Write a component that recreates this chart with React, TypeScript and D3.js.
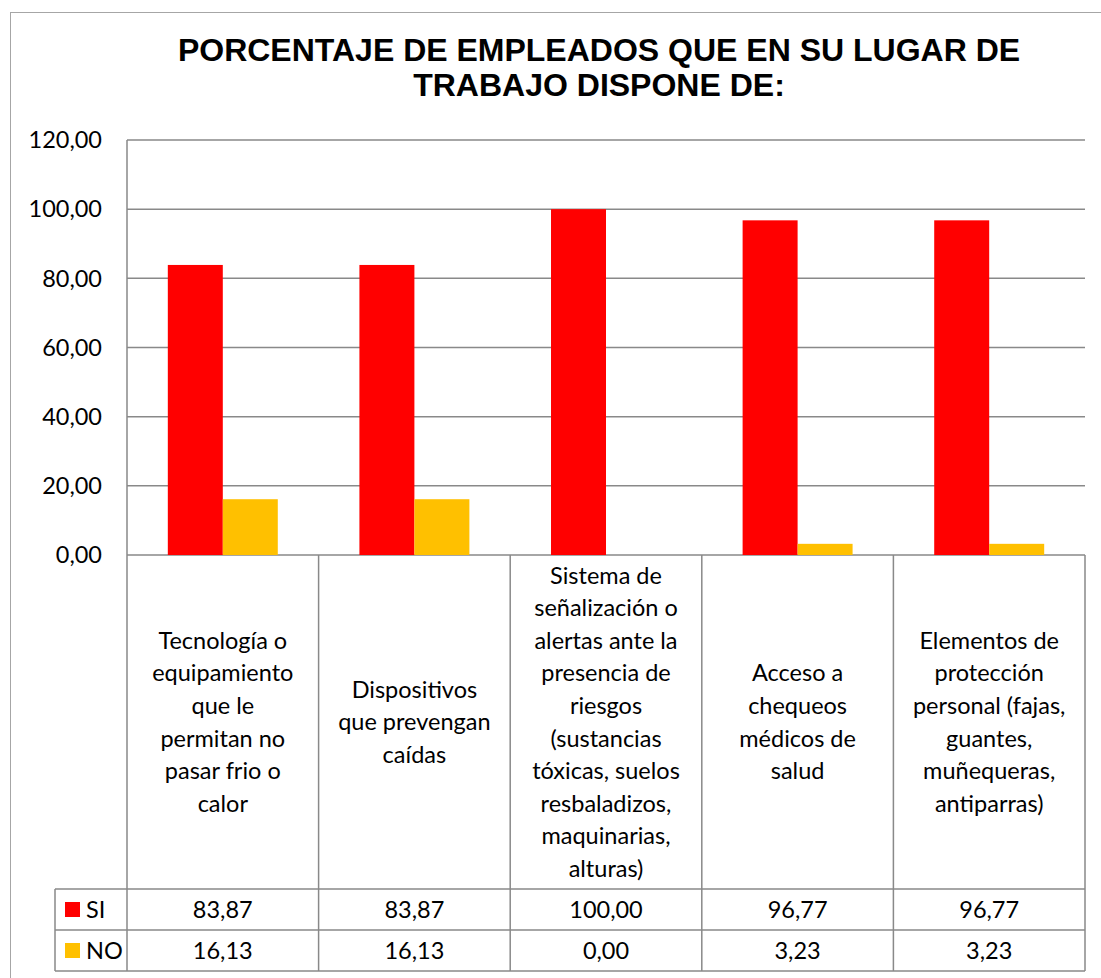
import React from 'react';
import * as d3 from 'd3';

const categories = [
  ['Tecnología o', 'equipamiento', 'que le', 'permitan no', 'pasar frio o', 'calor'],
  ['Dispositivos', 'que prevengan', 'caídas'],
  ['Sistema de', 'señalización o', 'alertas ante la', 'presencia de', 'riesgos', '(sustancias', 'tóxicas, suelos', 'resbaladizos,', 'maquinarias,', 'alturas)'],
  ['Acceso a', 'chequeos', 'médicos de', 'salud'],
  ['Elementos de', 'protección', 'personal (fajas,', 'guantes,', 'muñequeras,', 'antiparras)'],
];
const siValues = [83.87, 83.87, 100.0, 96.77, 96.77];
const noValues = [16.13, 16.13, 0.0, 3.23, 3.23];
const yTicks = [0, 20, 40, 60, 80, 100, 120];
const seriesNames = ['SI', 'NO'];
const seriesColors = ['#FF0000', '#FFC000'];

const W = 1101;
const H = 978;
const plot = { left: 127, right: 1085, top: 140, bottom: 555 };
const tableBottomCat = 889;
const rowH = 41;
const legendLeft = 55;
const gridColor = '#898989';
const fontBody = 'Lato, "Noto Sans", sans-serif';
const bodySize = 23.5;

const fmt = (v: number) => v.toFixed(2).replace('.', ',');

export default function App() {
  const x = d3.scaleBand<number>()
    .domain(d3.range(categories.length))
    .range([plot.left, plot.right])
    .paddingInner(0)
    .paddingOuter(0);
  const bw = x.bandwidth();
  const groupPad = 0.213;
  const inner = d3.scaleBand<number>()
    .domain([0, 1])
    .range([bw * groupPad, bw * (1 - groupPad)]);
  const y = d3.scaleLinear().domain([0, 120]).range([plot.bottom, plot.top]);
  const series = [siValues, noValues];
  const lineH = 32.6;
  const catMid = (plot.bottom + tableBottomCat) / 2;

  return (
    <svg width={W} height={H} style={{ position: 'absolute', left: 0, top: 0, background: '#fff' }}>
      <rect x={10.5} y={12.5} width={W} height={H} fill="#fff" stroke="#a6a6a6" strokeWidth={1} />

      <text x={599} y={61} textAnchor="middle" fontFamily='"Liberation Sans", Arial, sans-serif' fontWeight="bold" fontSize={32} fill="#000">
        PORCENTAJE DE EMPLEADOS QUE EN SU LUGAR DE
      </text>
      <text x={599} y={96} textAnchor="middle" fontFamily='"Liberation Sans", Arial, sans-serif' fontWeight="bold" fontSize={32} fill="#000">
        TRABAJO DISPONE DE:
      </text>

      {/* gridlines and y tick labels */}
      {yTicks.map(t => (
        <g key={t}>
          <line x1={plot.left} x2={plot.right} y1={y(t)} y2={y(t)} stroke={gridColor} strokeWidth={1.5} />
          <text x={102} y={y(t)} dy="0.35em" textAnchor="end" fontFamily={fontBody} fontSize={bodySize} fill="#000">
            {fmt(t)}
          </text>
        </g>
      ))}
      <line x1={plot.left} x2={plot.left} y1={plot.top} y2={plot.bottom + 0} stroke={gridColor} strokeWidth={1.5} />

      {/* bars */}
      {series.map((vals, si) =>
        vals.map((v, i) => (
          <rect
            key={`${si}-${i}`}
            x={(x(i) as number) + (inner(si) as number)}
            y={y(v)}
            width={inner.bandwidth()}
            height={plot.bottom - y(v)}
            fill={seriesColors[si]}
          />
        ))
      )}

      {/* data table */}
      <g stroke={gridColor} strokeWidth={1.5} fill="none">
        {d3.range(categories.length + 1).map(i => {
          const xx = i < categories.length ? (x(i) as number) : plot.right;
          return <line key={i} x1={xx} x2={xx} y1={plot.bottom} y2={tableBottomCat + 2 * rowH} />;
        })}
        <line x1={legendLeft} x2={plot.right} y1={tableBottomCat} y2={tableBottomCat} />
        <line x1={legendLeft} x2={plot.right} y1={tableBottomCat + rowH} y2={tableBottomCat + rowH} />
        <line x1={legendLeft} x2={plot.right} y1={tableBottomCat + 2 * rowH} y2={tableBottomCat + 2 * rowH} />
        <line x1={legendLeft} x2={legendLeft} y1={tableBottomCat} y2={tableBottomCat + 2 * rowH} />
      </g>

      {categories.map((lines, i) => {
        const cx = (x(i) as number) + bw / 2;
        const startY = catMid - ((lines.length - 1) * lineH) / 2;
        return (
          <text key={i} textAnchor="middle" fontFamily={fontBody} fontSize={bodySize} fill="#000">
            {lines.map((l, j) => (
              <tspan key={j} x={cx} y={startY + j * lineH} dy="0.35em">{l}</tspan>
            ))}
          </text>
        );
      })}

      {series.map((vals, si) => {
        const rowMid = tableBottomCat + rowH * si + rowH / 2;
        return (
          <g key={si}>
            <rect x={65} y={rowMid - 7.5} width={15} height={15} fill={seriesColors[si]} />
            <text x={86} y={rowMid} dy="0.35em" fontFamily={fontBody} fontSize={bodySize} fill="#000">{seriesNames[si]}</text>
            {vals.map((v, i) => (
              <text key={i} x={(x(i) as number) + bw / 2} y={rowMid} dy="0.35em" textAnchor="middle" fontFamily={fontBody} fontSize={bodySize} fill="#000">
                {fmt(v)}
              </text>
            ))}
          </g>
        );
      })}
    </svg>
  );
}
